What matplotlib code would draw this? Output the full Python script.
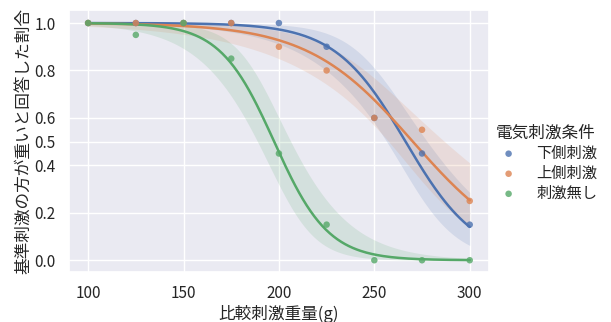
import numpy as np
import matplotlib
matplotlib.use("Agg")
import matplotlib.pyplot as plt
import seaborn as sns

sns.set_theme(style="darkgrid")
plt.rcParams['font.family'] = ['Noto Sans CJK JP', 'DejaVu Sans']

weights = [100, 125, 150, 175, 200, 225, 250, 275, 300]
lower = [1.0, 1.0, 1.0, 1.0, 1.0, 0.9, 0.6, 0.45, 0.15]
upper = [1.0, 1.0, 1.0, 1.0, 0.9, 0.8, 0.6, 0.55, 0.25]
none_ = [1.0, 0.95, 1.0, 0.85, 0.45, 0.15, 0.0, 0.0, 0.0]
labels = ["下側刺激", "上側刺激", "刺激無し"]
colors = ["#4C72B0", "#DD8452", "#55A868"]
n_trials = 20  # trials per point, used for the fit / band


def logit_fit(x, p, n):
    # plain newton iterations for binomial logistic regression
    X = np.column_stack([np.ones_like(x), (x - 200) / 50])
    beta = np.zeros(2)
    for _ in range(100):
        mu = 1 / (1 + np.exp(-X @ beta))
        W = n * mu * (1 - mu)
        H = X.T @ (X * W[:, None])
        g = X.T @ (n * (p - mu))
        beta = beta + np.linalg.solve(H, g)
    mu = 1 / (1 + np.exp(-X @ beta))
    H = X.T @ (X * (n * mu * (1 - mu))[:, None])
    return beta, np.linalg.inv(H)


fig, ax = plt.subplots(figsize=(6.11, 3.22), dpi=100)
fig.subplots_adjust(left=0.113, right=0.8, top=0.969, bottom=0.155)

x = np.array(weights, dtype=float)
xs = np.linspace(100, 300, 200)
Xs = np.column_stack([np.ones_like(xs), (xs - 200) / 50])
for ys, lab, c in zip([lower, upper, none_], labels, colors):
    y = np.array(ys)
    beta, cov = logit_fit(x, y, n_trials)
    eta = Xs @ beta
    se = np.sqrt(np.einsum("ij,jk,ik->i", Xs, cov, Xs))
    f = lambda e: 1 / (1 + np.exp(-e))
    ax.fill_between(xs, f(eta - 1.96 * se), f(eta + 1.96 * se), color=c, alpha=0.15, lw=0)
    ax.plot(xs, f(eta), color=c, lw=1.8)
    ax.scatter(x, y, color=c, s=22, label=lab, zorder=3, alpha=0.8, edgecolors="none")

ax.set_xlim(90, 310)
ax.set_ylim(-0.05, 1.055)
ax.set_xticks([100, 150, 200, 250, 300])
ax.set_yticks([0.0, 0.2, 0.4, 0.5, 0.6, 0.8, 1.0])
ax.tick_params(labelsize=11)
ax.set_xlabel("比較刺激重量(g)", fontsize=12, labelpad=2)
ax.set_ylabel("基準刺激の方が重いと回答した割合", fontsize=12, labelpad=2)
leg = ax.legend(title="電気刺激条件", loc="upper left", bbox_to_anchor=(0.978, 0.615),
                frameon=False, fontsize=11, title_fontsize=12, handletextpad=0.8,
                labelspacing=0.2)

fig.savefig("out.png", dpi=100)
